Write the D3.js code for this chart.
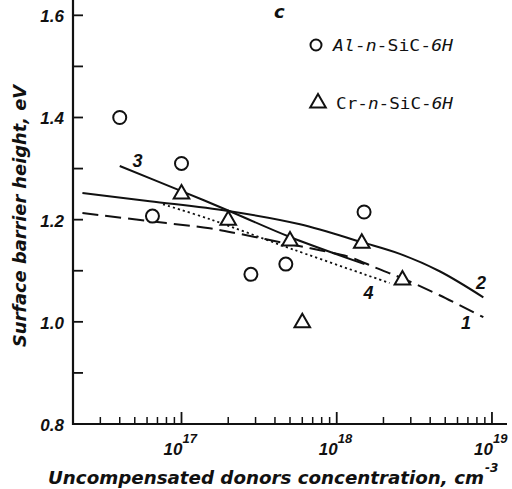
<!DOCTYPE html>
<html>
<head>
<meta charset="utf-8">
<script src="https://cdn.jsdelivr.net/npm/d3@7/dist/d3.min.js"></script>
<style>
    body { margin: 0; background: #fff; }
    svg { display: block; }
    .tick-label { font-family: 'Liberation Sans', sans-serif; font-weight: bold; font-style: italic; font-size: 17px; fill: #111; }
    .title { font-family: 'DejaVu Sans', sans-serif; font-weight: bold; font-style: italic; font-size: 18px; fill: #111; }
    .legend { font-family: 'DejaVu Sans Mono', monospace; font-size: 15px; fill: #111; }
</style>
</head>
<body>
<svg id="chart" width="512" height="489"></svg>
<script>
// measured points
let alConc = [4.0e16, 6.5e16, 1.0e17, 2.8e17, 4.7e17, 1.5e18];
let alHeight = [1.40, 1.207, 1.31, 1.093, 1.113, 1.215];
let crConc = [1.0e17, 2.0e17, 5.0e17, 6.0e17, 1.45e18, 2.65e18];
let crHeight = [1.252, 1.201, 1.16, 1.0, 1.156, 1.084];

// calculated curves 1-4
let curve1Conc = [2.3e16, 6.25e16, 1.52e17, 2.38e17, 5.0e17, 7.8e17, 1.21e18, 1.81e18, 2.7e18, 4.6e18, 8.8e18];
let curve1Height = [1.213, 1.197, 1.183, 1.172, 1.152, 1.140, 1.127, 1.105, 1.084, 1.052, 1.009];
let curve2Conc = [2.3e16, 6.25e16, 2.0e17, 5.8e17, 1.45e18, 2.55e18, 4.6e18, 8.8e18];
let curve2Height = [1.252, 1.236, 1.217, 1.191, 1.156, 1.133, 1.099, 1.048];
let curve3Conc = [4.0e16, 1.0e17, 1.96e17, 5.0e17, 1.51e18];
let curve3Height = [1.305, 1.256, 1.219, 1.166, 1.113];
let curve4Conc = [7.6e16, 1.52e17, 5.2e17, 2.19e18];
let curve4Height = [1.230, 1.201, 1.142, 1.076];

let curveNames = ['1', '2', '3', '4'];
let labelConc = [6.8e18, 8.5e18, 5.2e16, 1.6e18];
let labelHeight = [1.0, 1.078, 1.316, 1.058];

let xMajorTicks = [1e17, 1e18, 1e19];
let xTickExps = ['17', '18', '19'];
let yMajorTicks = [0.8, 1.0, 1.2, 1.4, 1.6];
let yMinorTicks = [0.9, 1.1, 1.3, 1.5];

function drawChart() {
    let svg = d3.select('#chart');

    let x = d3.scaleLog().domain([2e16, 1.25e19]).range([73, 507]);
    let y = d3.scaleLinear().domain([0.8, 1.63]).range([424, 0]);

    let xMinorTicks = [];
    [16, 17, 18].forEach((e) => {
        for (let m = 2; m <= 9; m++) {
            let v = m * Math.pow(10, e);
            if (v > 2e16 && v < 1.25e19) xMinorTicks.push(v);
        }
    });

    // axes, ticks drawn inward
    let axisColor = '#111';
    svg.append('line')
        .attr('x1', x.range()[0]).attr('x2', x.range()[0])
        .attr('y1', y.range()[0] + 1).attr('y2', 0)
        .attr('stroke', axisColor).attr('stroke-width', 2.2);
    svg.append('line')
        .attr('x1', x.range()[0] - 1).attr('x2', x.range()[1])
        .attr('y1', y.range()[0]).attr('y2', y.range()[0])
        .attr('stroke', axisColor).attr('stroke-width', 2.2);

    svg.append('g')
        .selectAll('line')
        .data(yMajorTicks.concat(yMinorTicks))
        .enter()
        .append('line')
        .attr('x1', x.range()[0])
        .attr('x2', x.range()[0] + 10)
        .attr('y1', (d) => y(d))
        .attr('y2', (d) => y(d))
        .attr('stroke', axisColor)
        .attr('stroke-width', 1.8);

    svg.append('g')
        .selectAll('text')
        .data(yMajorTicks)
        .enter()
        .append('text')
        .attr('class', 'tick-label')
        .attr('x', x.range()[0] - 9)
        .attr('y', (d) => y(d) + 7)
        .attr('text-anchor', 'end')
        .text((d) => d.toFixed(1));

    svg.append('g')
        .selectAll('line')
        .data(xMajorTicks)
        .enter()
        .append('line')
        .attr('x1', (d) => x(d))
        .attr('x2', (d) => x(d))
        .attr('y1', y.range()[0])
        .attr('y2', y.range()[0] - 12)
        .attr('stroke', axisColor)
        .attr('stroke-width', 1.8);

    svg.append('g')
        .selectAll('line')
        .data(xMinorTicks)
        .enter()
        .append('line')
        .attr('x1', (d) => x(d))
        .attr('x2', (d) => x(d))
        .attr('y1', y.range()[0])
        .attr('y2', y.range()[0] - 7)
        .attr('stroke', axisColor)
        .attr('stroke-width', 1.5);

    let xLabels = svg.append('g')
        .selectAll('g')
        .data(xMajorTicks)
        .enter()
        .append('g')
        .attr('transform', (d) => `translate(${x(d)}, ${y.range()[0]})`);
    xLabels.append('text')
        .attr('class', 'tick-label')
        .attr('x', 1)
        .attr('y', 31)
        .attr('text-anchor', 'end')
        .text('10');
    xLabels.append('text')
        .attr('class', 'tick-label')
        .style('font-size', '13px')
        .attr('x', 1)
        .attr('y', 19)
        .text((d, i) => xTickExps[i]);

    // axis titles
    svg.append('text')
        .attr('class', 'title')
        .attr('x', 48)
        .attr('y', 484)
        .attr('textLength', 436)
        .attr('lengthAdjust', 'spacingAndGlyphs')
        .text('Uncompensated donors concentration, cm');
    svg.append('text')
        .attr('class', 'title')
        .style('font-size', '12px')
        .attr('x', 485)
        .attr('y', 472)
        .text('-3');
    svg.append('text')
        .attr('class', 'title')
        .attr('transform', 'translate(26, 216) rotate(-90)')
        .attr('text-anchor', 'middle')
        .attr('textLength', 262)
        .attr('lengthAdjust', 'spacingAndGlyphs')
        .text('Surface barrier height, eV');

    svg.append('text')
        .attr('class', 'title')
        .attr('x', 274)
        .attr('y', 18)
        .text('c');

    // curves
    let curves = [
        { conc: curve1Conc, h: curve1Height, dash: '16,7' },
        { conc: curve2Conc, h: curve2Height, dash: null },
        { conc: curve3Conc, h: curve3Height, dash: null },
        { conc: curve4Conc, h: curve4Height, dash: '2.2,3' },
    ];
    let line = d3.line()
        .x((d) => x(d[0]))
        .y((d) => y(d[1]))
        .curve(d3.curveCatmullRom.alpha(0.5));
    svg.append('g')
        .selectAll('path')
        .data(curves)
        .enter()
        .append('path')
        .attr('d', (c) => line(c.conc.map((v, i) => [v, c.h[i]])))
        .attr('fill', 'none')
        .attr('stroke', '#111')
        .attr('stroke-width', (c) => (c.dash === '2.2,3' ? 1.8 : 2))
        .attr('stroke-dasharray', (c) => c.dash);

    svg.append('g')
        .selectAll('text')
        .data(curveNames)
        .enter()
        .append('text')
        .attr('class', 'tick-label')
        .style('font-size', '18px')
        .attr('x', (d, i) => x(labelConc[i]))
        .attr('y', (d, i) => y(labelHeight[i]) + 7)
        .attr('text-anchor', 'middle')
        .text((d) => d);

    // markers
    svg.append('g')
        .selectAll('circle')
        .data(alConc)
        .enter()
        .append('circle')
        .attr('cx', (d) => x(d))
        .attr('cy', (d, i) => y(alHeight[i]))
        .attr('r', 6.5)
        .attr('fill', '#fff')
        .attr('stroke', '#111')
        .attr('stroke-width', 2);

    let tri = d3.symbol().type(d3.symbolTriangle).size(105);
    svg.append('g')
        .selectAll('path')
        .data(crConc)
        .enter()
        .append('path')
        .attr('d', tri)
        .attr('transform', (d, i) => `translate(${x(d)}, ${y(crHeight[i]) + 1})`)
        .attr('fill', '#fff')
        .attr('stroke', '#111')
        .attr('stroke-width', 2);

    // legend
    let legend = svg.append('g').attr('transform', 'translate(316, 0)');
    legend.append('circle')
        .attr('cx', 0).attr('cy', 45).attr('r', 5.5)
        .attr('fill', '#fff').attr('stroke', '#111').attr('stroke-width', 2);
    legend.append('path')
        .attr('d', tri)
        .attr('transform', 'translate(2, 103)')
        .attr('fill', '#fff').attr('stroke', '#111').attr('stroke-width', 2);
    let t1 = legend.append('text')
        .attr('class', 'legend')
        .attr('x', 17).attr('y', 51)
        .attr('textLength', 120)
        .attr('lengthAdjust', 'spacingAndGlyphs');
    t1.append('tspan').style('font-style', 'italic').text('Al');
    t1.append('tspan').text('-');
    t1.append('tspan').style('font-style', 'italic').text('n');
    t1.append('tspan').text('-SiC-');
    t1.append('tspan').style('font-style', 'italic').text('6H');
    let t2 = legend.append('text')
        .attr('class', 'legend')
        .attr('x', 20).attr('y', 109)
        .attr('textLength', 117)
        .attr('lengthAdjust', 'spacingAndGlyphs');
    t2.append('tspan').text('Cr-');
    t2.append('tspan').style('font-style', 'italic').text('n');
    t2.append('tspan').text('-SiC-');
    t2.append('tspan').style('font-style', 'italic').text('6H');
}

drawChart();
</script>
</body>
</html>
